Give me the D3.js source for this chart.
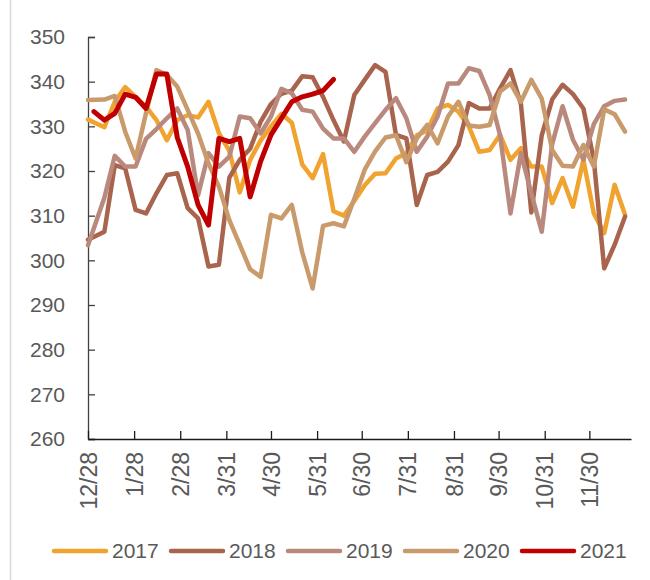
<!DOCTYPE html>
<html>
<head>
<meta charset="utf-8">
<script src="https://cdn.jsdelivr.net/npm/d3@7"></script>
<style>
  body { margin: 0; background: #fff; }
  svg { display: block; font-family: "Liberation Sans", Arial, sans-serif; }
</style>
</head>
<body>
<div id="chart"></div>
<script>
// weekly dates (shared category axis)
const dates = [
  "2020-12-28", "2021-01-01", "2021-01-08", "2021-01-15", "2021-01-22", "2021-01-29",
  "2021-02-05", "2021-02-12", "2021-02-19", "2021-02-26", "2021-03-05", "2021-03-12",
  "2021-03-19", "2021-03-26", "2021-04-02", "2021-04-09", "2021-04-16", "2021-04-23",
  "2021-04-30", "2021-05-07", "2021-05-14", "2021-05-21", "2021-05-28", "2021-06-04",
  "2021-06-11", "2021-06-18", "2021-06-25", "2021-07-02", "2021-07-09", "2021-07-16",
  "2021-07-23", "2021-07-30", "2021-08-06", "2021-08-13", "2021-08-20", "2021-08-27",
  "2021-09-03", "2021-09-10", "2021-09-17", "2021-09-24", "2021-10-01", "2021-10-08",
  "2021-10-15", "2021-10-22", "2021-10-29", "2021-11-05", "2021-11-12", "2021-11-19",
  "2021-11-26", "2021-12-03", "2021-12-10", "2021-12-17", "2021-12-24"
];

const v2017 = [331.5, null, 329.8, 335.5, 338.8, 336.6, 334.4, 331.4, 326.9, 331.4, 332.5, 332.0,
  335.5, 328.5, 324.5, 315.2, 322.5, 326.8, 330.0, 332.8, 330.8, 321.5, 318.4, 323.8,
  311.0, 310.0, 313.3, 316.8, 319.4, 319.5, 322.8, 324.0, 328.0, 329.0, 334.0, 334.8,
  333.3, 330.0, 324.3, 324.7, 328.1, 322.5, 325.1, 321.0, 321.0, 312.8, 318.4, 312.0,
  322.5, 310.5, 306.1, 316.9, 310.2];

const v2018 = [304.6, null, 306.4, 321.3, 320.6, 311.3, 310.5, 315.0, 319.1, 319.5, 311.7, 309.4,
  298.6, 299.0, 318.5, 322.5, 325.0, 331.0, 335.0, 337.3, 338.0, 341.2, 341.0, 336.6,
  331.4, 326.6, 337.0, 340.4, 343.7, 342.2, 328.1, 327.3, 312.4, 319.1, 319.8, 322.1,
  325.8, 335.2, 334.0, 334.0, 338.5, 342.6, 335.0, 310.7, 328.0, 336.0, 339.3, 337.2,
  334.0, 322.5, 298.2, 303.5, 309.8];

const v2019 = [303.4, null, 314.0, 323.4, 321.0, 321.0, 327.2, 329.4, 331.8, 334.0, 329.2, 314.6,
  324.0, 321.0, 323.2, 332.2, 331.8, 328.4, 332.2, 338.4, 337.4, 333.7, 333.3, 329.5,
  327.3, 327.3, 324.3, 327.7, 330.7, 333.7, 336.3, 331.8, 324.3, 327.7, 332.2, 339.6,
  339.6, 343.0, 342.4, 337.0, 328.0, 310.5, 324.0, 315.0, 306.4, 326.0, 334.5, 327.0,
  322.5, 330.5, 334.5, 335.7, 336.0];

const v2020 = [335.9, null, 336.0, 336.8, 328.8, 322.8, 333.0, 342.6, 341.5, 338.9, 333.7, 328.4,
  321.7, 316.5, 309.0, 303.5, 298.0, 296.3, 310.2, 309.4, 312.4, 301.8, 293.7, 307.7,
  308.3, 307.6, 313.8, 320.3, 324.4, 327.5, 328.0, 322.0, 327.3, 330.3, 326.2, 332.2,
  335.5, 330.2, 329.9, 330.3, 337.8, 339.6, 335.5, 340.4, 336.2, 324.7, 321.2, 321.0,
  325.8, 321.0, 333.8, 332.7, 328.8];

const v2021 = [null, 333.3, 331.4, 332.9, 337.2, 336.5, 334.0, 341.7, 341.7, 327.5, 321.0, 312.4,
  307.9, 327.3, 326.6, 327.3, 314.2, 322.1, 328.1, 331.8, 335.5, 336.6, 337.2, 338.0,
  340.5];

const years = ["2017", "2018", "2019", "2020", "2021"];
const colors = ["#F0A32F", "#A8644C", "#BA897D", "#C99A6B", "#C00000"];

const yTicks = [260, 270, 280, 290, 300, 310, 320, 330, 340, 350];
const xTickDates = ["2020-12-28", "2021-01-28", "2021-02-28", "2021-03-31", "2021-04-30", "2021-05-31",
  "2021-06-30", "2021-07-31", "2021-08-31", "2021-09-30", "2021-10-31", "2021-11-30"];
const xTickLabels = ["12/28", "1/28", "2/28", "3/31", "4/30", "5/31",
  "6/30", "7/31", "8/31", "9/30", "10/31", "11/30"];

let width = 650;
let height = 580;
let plotLeft = 88, plotRight = 631, plotTop = 37, plotBottom = 439;
let parse = d3.timeParse("%Y-%m-%d");
let textColor = "#595959";

let svg = d3.select("#chart").append("svg")
  .attr("width", width)
  .attr("height", height);

// light frame edge on the left
svg.append("line")
  .attr("x1", 10.5).attr("x2", 10.5)
  .attr("y1", 0).attr("y2", height)
  .attr("stroke", "#d9d9d9")
  .attr("stroke-width", 1.5);

let x = d3.scaleTime()
  .domain([parse("2020-12-28"), parse("2021-12-28")])
  .range([plotLeft, plotRight]);

let y = d3.scaleLinear()
  .domain([260, 350])
  .range([plotBottom, plotTop]);

// y axis, ticks inside
let yAxis = d3.axisLeft(y)
  .tickValues(yTicks)
  .tickSize(-7)
  .tickPadding(23);

let gy = svg.append("g")
  .attr("transform", `translate(${plotLeft}, 0)`)
  .call(yAxis);

gy.select(".domain").attr("stroke", "#404040").attr("stroke-width", 1.3);
gy.selectAll(".tick line").attr("stroke", "#404040").attr("stroke-width", 1.3);
gy.selectAll(".tick text")
  .attr("fill", textColor)
  .style("font-size", "21px");

// x axis
let xAxis = d3.axisBottom(x)
  .tickValues(xTickDates.map(parse))
  .tickFormat(function (d, i) { return xTickLabels[i]; })
  .tickSize(-8)
  .tickSizeOuter(0);

let gx = svg.append("g")
  .attr("transform", `translate(0, ${plotBottom})`)
  .call(xAxis);

gx.select(".domain").attr("stroke", "#1a1a1a").attr("stroke-width", 1.6);
gx.selectAll(".tick line").attr("stroke", "#1a1a1a").attr("stroke-width", 1.3);
gx.selectAll(".tick text")
  .attr("fill", textColor)
  .style("font-size", "23px")
  .attr("text-anchor", "end")
  .attr("transform", "rotate(-90)")
  .attr("x", -13)
  .attr("y", 0)
  .attr("dy", "0.35em");

// series lines
let series = [v2017, v2018, v2019, v2020, v2021];

let line = d3.line()
  .x(function (d) { return x(d.date); })
  .y(function (d) { return y(d.value); });

series.forEach(function (vals, k) {
  let pts = dates.map(function (s, i) {
    return { date: parse(s), value: vals[i] };
  }).filter(function (d) { return d.value != null; });

  svg.append("path")
    .datum(pts)
    .attr("fill", "none")
    .attr("stroke", colors[k])
    .attr("stroke-width", k === 4 ? 5 : 4.5)
    .attr("stroke-linejoin", "round")
    .attr("stroke-linecap", "round")
    .attr("d", line);
});

// legend
let legend = svg.append("g")
  .attr("transform", "translate(52, 551)");

let item = legend.selectAll("g")
  .data(years)
  .enter()
  .append("g")
  .attr("transform", function (d, i) { return `translate(${i * 117}, 0)`; });

item.append("line")
  .attr("x1", 2).attr("x2", 54)
  .attr("y1", 0).attr("y2", 0)
  .attr("stroke", function (d, i) { return colors[i]; })
  .attr("stroke-width", 4.5)
  .attr("stroke-linecap", "round");

item.append("text")
  .attr("x", 60)
  .attr("y", 0)
  .attr("dy", "0.35em")
  .attr("fill", textColor)
  .style("font-size", "21px")
  .text(function (d) { return d; });
</script>
</body>
</html>
